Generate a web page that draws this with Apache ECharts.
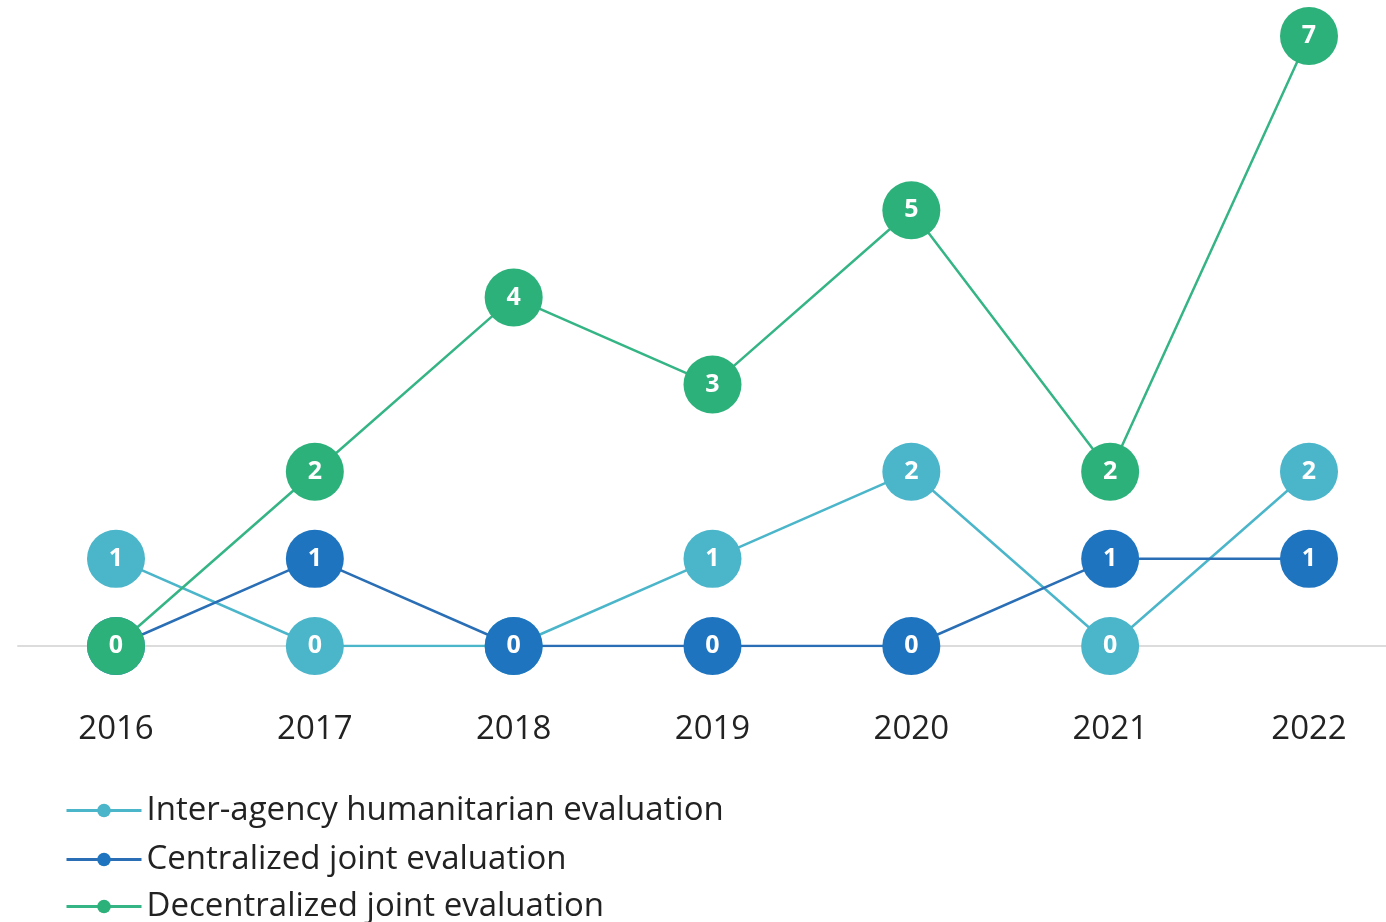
<!DOCTYPE html>
<html>
<head>
<meta charset="utf-8">
<script src="https://cdn.jsdelivr.net/npm/echarts@6/dist/echarts.min.js"></script>
<style>html,body{margin:0;padding:0;background:#fff;}#c{width:1386px;height:922px;}</style>
</head>
<body>
<div id="c"></div>
<script>
const years = ['2016','2017','2018','2019','2020','2021','2022'];
const interAgency = [1,0,0,1,2,0,2];
const centralized = [0,1,0,0,0,1,1];
const decentralized = [0,2,4,3,5,2,7];
const seriesNames = ['Inter-agency humanitarian evaluation','Centralized joint evaluation','Decentralized joint evaluation'];
const colors = ['#4bb5ca','#1f74bf','#2db17a'];
const lineColors = ['#4bb5ca','#2a6fb5','#35b585'];

const chart = echarts.init(document.getElementById('c'));
function mk(i, data){
  return {
    name: seriesNames[i], type:'line', data: data,
    xAxisIndex:0, yAxisIndex:0,
    symbol:'circle', symbolSize:58,
    itemStyle:{color:colors[i]},
    lineStyle:{color:lineColors[i], width:2.5},
    label:{show:true, position:'inside', color:'#fff', fontSize:25, fontWeight:'bold', fontFamily:'Open Sans'},
    z: 3+i
  };
}
const legendTops = [794, 843, 890];
chart.setOption({
  animation:false,
  textStyle:{fontFamily:'Open Sans'},
  grid:[
    {left:116, right:77, top:36, bottom:276, containLabel:false},
    {left:18, right:0, top:36, bottom:276, containLabel:false}
  ],
  xAxis:[
    {type:'category', data:years, boundaryGap:false, gridIndex:0,
      axisLine:{show:false}, axisTick:{show:false},
      axisLabel:{color:'#222', fontSize:33, margin:67, fontFamily:'Open Sans'}, z:5},
    {type:'value', gridIndex:1, min:0, max:1, show:true,
      axisLine:{show:true, onZero:false, lineStyle:{color:'#dcdcdc', width:2}},
      axisTick:{show:false}, axisLabel:{show:false}, splitLine:{show:false}, z:0}
  ],
  yAxis:[
    {type:'value', gridIndex:0, min:0, max:7, show:false, splitLine:{show:false}},
    {type:'value', gridIndex:1, min:0, max:1, show:false, splitLine:{show:false}}
  ],
  legend: seriesNames.map((n,i)=>({
    orient:'vertical', left:65, top:legendTops[i], padding:0,
    itemWidth:75, itemHeight:17, itemGap:0,
    lineStyle:{width:3},
    textStyle:{color:'#222', fontSize:33, lineHeight:30, fontFamily:'Open Sans'},
    data:[n]
  })),
  series:[mk(0,interAgency), mk(1,centralized), mk(2,decentralized)]
});
</script>
</body>
</html>
